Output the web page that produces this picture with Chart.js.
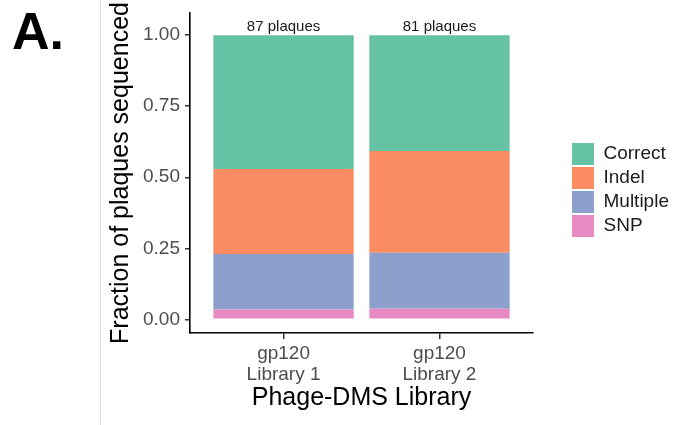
<!DOCTYPE html>
<html>
<head>
<meta charset="utf-8">
<script src="https://cdn.jsdelivr.net/npm/chart.js@4.4.1/dist/chart.umd.min.js"></script>
<style>
  body { margin: 0; background: #fff; }
  #wrap { position: relative; width: 689px; height: 425px; }
  canvas { position: absolute; left: 0; top: 0; }
  #panel { position: absolute; left: 12px; top: 5px; font: bold 52px "Liberation Sans", Arial, sans-serif; line-height: 1; color: #000; }
  #rule { position: absolute; left: 100px; top: 0; width: 1px; height: 425px; background: #e6e6e6; }
</style>
</head>
<body>
<div id="wrap">
  <canvas id="myChart" width="689" height="425"></canvas>
  <div id="panel">A.</div>
  <div id="rule"></div>
</div>
<script>
// plaques sequenced per library, split by outcome
const libraries = [['gp120', 'Library 1'], ['gp120', 'Library 2']];
const snpCounts = [3, 3];
const multipleCounts = [17, 16];
const indelCounts = [26, 29];
const correctCounts = [41, 33];
const yTicks = [0, 0.25, 0.5, 0.75, 1];

const outcomeNames = ['SNP', 'Multiple', 'Indel', 'Correct'];
const outcomeColors = ['#E78AC3', '#8DA0CB', '#FC8D62', '#66C2A5'];
const outcomeCounts = [snpCounts, multipleCounts, indelCounts, correctCounts];

const plaqueTotals = libraries.map((_, i) => outcomeCounts.reduce((s, c) => s + c[i], 0));

const FONT = '"Liberation Sans", Arial, sans-serif';
Chart.defaults.font.family = FONT;

// "NN plaques" above each bar
const plaqueLabels = {
    id: 'plaqueLabels',
    afterDatasetsDraw(chart) {
        const { ctx, scales: { x, y } } = chart;
        ctx.save();
        ctx.font = '15px ' + FONT;
        ctx.fillStyle = '#1a1a1a';
        ctx.textAlign = 'center';
        ctx.textBaseline = 'bottom';
        plaqueTotals.forEach((n, i) => {
            ctx.fillText(n + ' plaques', x.getPixelForValue(i + 1), y.getPixelForValue(1) - 1);
        });
        ctx.restore();
    }
};

// move legend off the axis and down next to the bars
const legendPlace = {
    id: 'legendPlace',
    afterLayout(chart) {
        const lg = chart.legend;
        const w = lg.width;
        lg.left = 570;
        lg.right = lg.left + w;
        lg.top = 141;
        lg.bottom = 425;
    }
};

// no extra room for edge tick labels, the layout padding handles it
const noEdgePadding = (s) => {
    s.paddingTop = 0;
    s.paddingBottom = 0;
    s.paddingLeft = 0;
    s.paddingRight = 0;
};

const ctx = document.getElementById('myChart');
new Chart(ctx, {
    type: 'bar',
    data: {
        datasets: outcomeNames.map((name, k) => ({
            label: name,
            data: outcomeCounts[k].map((n, i) => ({ x: i + 1, y: n / plaqueTotals[i] })),
            backgroundColor: outcomeColors[k],
            borderWidth: 0,
            categoryPercentage: 1,
            barPercentage: 0.9,
        }))
    },
    options: {
        responsive: false,
        animation: false,
        layout: {
            padding: { left: 100, top: 13, right: 47, bottom: 0 }
        },
        scales: {
            x: {
                type: 'linear',
                stacked: true,
                offset: false,
                min: 0.4,
                max: 2.6,
                afterBuildTicks: (s) => { s.ticks = libraries.map((_, i) => ({ value: i + 1 })); },
                afterFit: (s) => { s.height = 92; noEdgePadding(s); },
                ticks: {
                    callback: (v, i) => libraries[i],
                    autoSkip: false,
                    maxRotation: 0,
                    color: '#4d4d4d',
                    padding: 4,
                    font: { size: 19, lineHeight: 1.12 },
                },
                grid: {
                    offset: false,
                    drawOnChartArea: false,
                    tickLength: 6,
                    color: '#333',
                    lineWidth: 1.5,
                },
                border: { color: '#000', width: 1.6 },
                title: {
                    display: true,
                    text: 'Phage-DMS Library',
                    color: '#000',
                    font: { size: 25 },
                    padding: { top: 0, bottom: 12 },
                },
            },
            y: {
                stacked: true,
                min: -0.048,
                max: 1.078,
                afterBuildTicks: (s) => { s.ticks = yTicks.map(v => ({ value: v })); },
                afterFit: (s) => { s.width = 90; noEdgePadding(s); },
                ticks: {
                    callback: (v) => v.toFixed(2),
                    color: '#4d4d4d',
                    padding: 5,
                    font: { size: 19 },
                },
                grid: {
                    drawOnChartArea: false,
                    tickLength: 5,
                    color: '#333',
                    lineWidth: 1.5,
                },
                border: { color: '#000', width: 1.6 },
                title: {
                    display: true,
                    text: 'Fraction of plaques sequenced',
                    color: '#000',
                    font: { size: 25 },
                    padding: { top: 6, bottom: 0 },
                },
            }
        },
        plugins: {
            legend: {
                position: 'right',
                align: 'start',
                reverse: true,
                labels: {
                    boxWidth: 22,
                    boxHeight: 22,
                    padding: 2,
                    color: '#1a1a1a',
                    font: { size: 19 },
                },
            },
            tooltip: { enabled: false },
        }
    },
    plugins: [plaqueLabels, legendPlace]
});
</script>
</body>
</html>
